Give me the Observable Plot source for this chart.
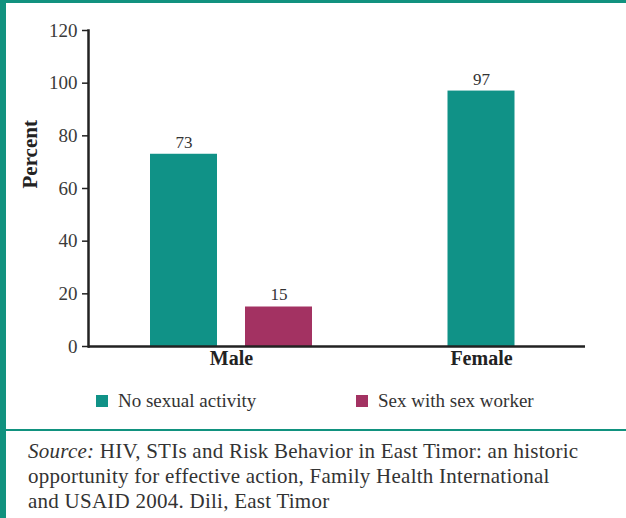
<!DOCTYPE html>
<html>
<head>
<meta charset="utf-8">
<script src="https://cdn.jsdelivr.net/npm/d3@7"></script>
<script src="https://cdn.jsdelivr.net/npm/@observablehq/plot@0.6"></script>
<style>
  html, body { margin: 0; padding: 0; background: #fff; }
  body { width: 626px; height: 518px; overflow: hidden; font-family: "Liberation Serif", serif; color: #333; }
  #frame { box-sizing: border-box; width: 626px; border-left: 6px solid #11927f; border-top: 3px solid #11927f; }
  #legend { height: 20px; margin-top: 12px; position: relative; font-size: 19px; }
  .item { position: absolute; top: 0; display: flex; align-items: center; gap: 10px; }
  .sw { width: 12px; height: 12px; display: inline-block; }
  #source { box-sizing: border-box; margin-top: 19px; border-top: 2px solid #11927f; border-bottom: 3px solid #11927f;
            padding: 8px 0 6px 22px; font-size: 21px; line-height: 25px; color: #333; white-space: nowrap; letter-spacing: 0.25px; }
</style>
</head>
<body>
<div id="frame">
  <div id="chart"></div>
  <div id="legend"></div>
  <div id="source"><i>Source:</i> HIV, STIs and Risk Behavior in East Timor: an historic<br>opportunity for effective action, Family Health International<br>and USAID 2004. Dili, East Timor</div>
</div>
<script>
const groups = ["Male", "Female"];
const series = ["No sexual activity", "Sex with sex worker"];
const maleValues = [73, 15];
const femaleValues = [97, null];
const yTicks = [0, 20, 40, 60, 80, 100, 120];
const colors = ["#109287", "#a33262"];

const valuesByGroup = {Male: maleValues, Female: femaleValues};
const rows = [];
for (const g of groups) {
  const vals = valuesByGroup[g];
  const present = series.map((s, i) => ({s, v: vals[i]})).filter(d => d.v != null);
  present.forEach((d, k) => rows.push({group: g, series: d.s, value: d.v, slot: k - (present.length - 1) / 2}));
}
const step = 95;
const barMarks = rows.flatMap(r => [
  Plot.barY([r], {x: "group", y: "value", fill: "series", dx: r.slot * step, insetLeft: 91.5, insetRight: 91.5}),
  Plot.text([r], {x: "group", y: "value", text: d => String(d.value), dx: r.slot * step, dy: -12, fontSize: 17, fill: "#333"})
]);

const chart = Plot.plot({
  width: 620,
  height: 375,
  marginLeft: 82,
  marginRight: 41,
  marginTop: 27,
  marginBottom: 32,
  style: {fontFamily: "Liberation Serif, serif", fontSize: "18px", color: "#222", background: "transparent"},
  x: {domain: groups, range: [100, 600], padding: 0, label: null},
  y: {domain: [0, 120], label: null},
  color: {domain: series, range: colors},
  marks: [
    ...barMarks,
    Plot.axisX({tickSize: 0, tickPadding: 4, fontWeight: "bold", fontSize: 20, fill: "#222", label: null}),
    Plot.axisY({ticks: yTicks, tickSize: 6, tickPadding: 5, fontSize: 19, fill: "#3a3a3a", stroke: "#222", strokeWidth: 1.5, label: null}),
    Plot.ruleY([0], {stroke: "#222", strokeWidth: 2.5}),
    Plot.frame({anchor: "left", stroke: "#222", strokeWidth: 2.5}),
    Plot.text(["Percent"], {frameAnchor: "left", dx: -58, rotate: -90, fontWeight: "bold", fontSize: 21, fill: "#222"})
  ]
});
document.getElementById("chart").appendChild(chart);

const legend = document.getElementById("legend");
const legendX = [90, 350];
series.forEach((s, i) => {
  const it = document.createElement("div");
  it.className = "item";
  it.style.left = legendX[i] + "px";
  it.innerHTML = `<span class="sw" style="background:${colors[i]}"></span><span>${s}</span>`;
  legend.appendChild(it);
});
</script>
</body>
</html>
